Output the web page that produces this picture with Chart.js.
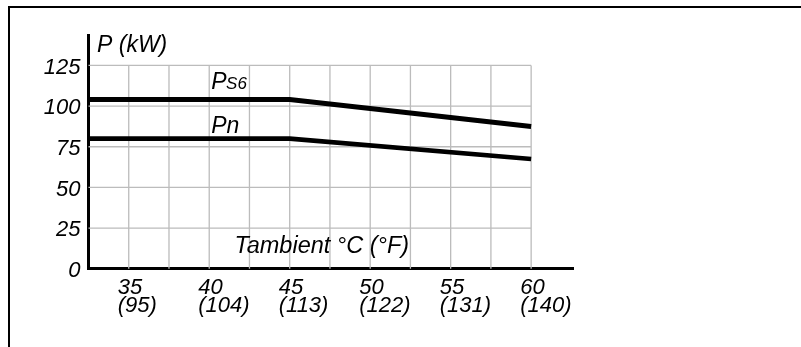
<!DOCTYPE html>
<html>
<head>
<meta charset="utf-8">
<script src="https://cdn.jsdelivr.net/npm/chart.js@4"></script>
<style>
  html, body { margin: 0; padding: 0; background: #fff; }
  #wrap { position: relative; width: 801px; height: 347px; overflow: hidden; }
  #c { position: absolute; left: 0; top: 0; }
  #frame { position: absolute; left: 8px; top: 6px; right: -4px; bottom: -4px;
           border-top: 2px solid #000; border-left: 2px solid #000; pointer-events: none; }
</style>
</head>
<body>
<div id="wrap">
  <canvas id="c" width="801" height="347"></canvas>
  <div id="frame"></div>
</div>
<script>
// ---- data ----
const temps = [32.5, 45, 60];            // ambient temperature, °C
const ps6   = [104, 104, 87.5];          // P S6 (kW)
const pn    = [80, 80, 67.5];            // Pn (kW)
const xTickC = [35, 40, 45, 50, 55, 60];
const xTickF = ['(95)', '(104)', '(113)', '(122)', '(131)', '(140)'];
const yTicks = [0, 25, 50, 75, 100, 125];
const xGrid  = [35, 37.5, 40, 42.5, 45, 47.5, 50, 52.5, 55, 57.5, 60];

const FONT = "'Liberation Sans', Arial, sans-serif";

const gridPlugin = {
  id: 'customGrid',
  beforeDatasetsDraw(chart) {
    const { ctx, scales: { x, y } } = chart;
    const xMax = x.getPixelForValue(xGrid[xGrid.length - 1]);
    const yTop = y.getPixelForValue(yTicks[yTicks.length - 1]);
    const yBot = y.getPixelForValue(0);
    ctx.save();
    ctx.strokeStyle = '#bcbcbc';
    ctx.lineWidth = 1.3;
    ctx.beginPath();
    xGrid.forEach(v => {
      const px = x.getPixelForValue(v);
      ctx.moveTo(px, yBot); ctx.lineTo(px, yTop);
    });
    yTicks.forEach(v => {
      if (v === 0) return;
      const py = y.getPixelForValue(v);
      ctx.moveTo(chart.chartArea.left, py); ctx.lineTo(xMax, py);
    });
    ctx.stroke();
    ctx.restore();
  }
};

const textPlugin = {
  id: 'texts',
  afterDraw(chart) {
    const { ctx, chartArea, scales: { x, y } } = chart;
    ctx.save();
    ctx.fillStyle = '#000';
    ctx.textBaseline = 'alphabetic';
    ctx.textAlign = 'left';
    // axis title P (kW)
    ctx.font = 'italic 23px ' + FONT;
    ctx.fillText('P (kW)', chartArea.left + 8.5, chartArea.top + 17);
    // x title
    ctx.font = 'italic 23.5px ' + FONT;
    ctx.fillText('Tambient °C (°F)', chartArea.left + 146, chartArea.bottom - 16);
    // series labels
    const lx = x.getPixelForValue(40) + 2;
    ctx.font = 'italic 23px ' + FONT;
    ctx.fillText('P', lx, y.getPixelForValue(110.5));
    const pw = ctx.measureText('P').width;
    ctx.font = 'italic 17px ' + FONT;
    ctx.fillText('S6', lx + pw - 0.5, y.getPixelForValue(110.5));
    ctx.font = 'italic 23px ' + FONT;
    ctx.fillText('Pn', lx, y.getPixelForValue(83.3));
    ctx.restore();
  }
};

new Chart(document.getElementById('c'), {
  type: 'line',
  data: {
    datasets: [
      { label: 'PS6', data: temps.map((t, i) => ({ x: t, y: ps6[i] })),
        borderColor: '#000', borderWidth: 5, pointRadius: 0, tension: 0, fill: false },
      { label: 'Pn', data: temps.map((t, i) => ({ x: t, y: pn[i] })),
        borderColor: '#000', borderWidth: 4.6, pointRadius: 0, tension: 0, fill: false }
    ]
  },
  options: {
    responsive: false,
    animation: false,
    devicePixelRatio: 1,
    layout: { padding: { left: 0, top: 35, right: 228, bottom: 0 } },
    plugins: { legend: { display: false }, tooltip: { enabled: false } },
    scales: {
      x: {
        type: 'linear',
        min: 32.5, max: 62.6,
        afterBuildTicks: s => { s.ticks = xTickC.map(v => ({ value: v })); },
        afterFit: s => { s.height = 78.3; },
        grid: { display: false, drawTicks: false },
        border: { display: true, color: '#000', width: 3 },
        ticks: {
          align: 'start',
          labelOffset: -11,
          padding: 10,
          color: '#000',
          maxRotation: 0,
          autoSkip: false,
          font: { family: FONT, size: 22, style: 'italic', lineHeight: 0.82 },
          callback: (v) => { const i = xTickC.indexOf(v); return [String(v), xTickF[i]]; }
        }
      },
      y: {
        type: 'linear',
        min: 0, max: 143.7,
        afterBuildTicks: s => { s.ticks = yTicks.map(v => ({ value: v })); },
        afterFit: s => { s.width = 88.5; },
        grid: { display: false, drawTicks: false },
        border: { display: true, color: '#000', width: 3 },
        ticks: {
          padding: 8,
          labelOffset: 2,
          color: '#000',
          font: { family: FONT, size: 22, style: 'italic' },
          callback: v => String(v)
        }
      }
    }
  },
  plugins: [gridPlugin, textPlugin]
});
</script>
</body>
</html>
